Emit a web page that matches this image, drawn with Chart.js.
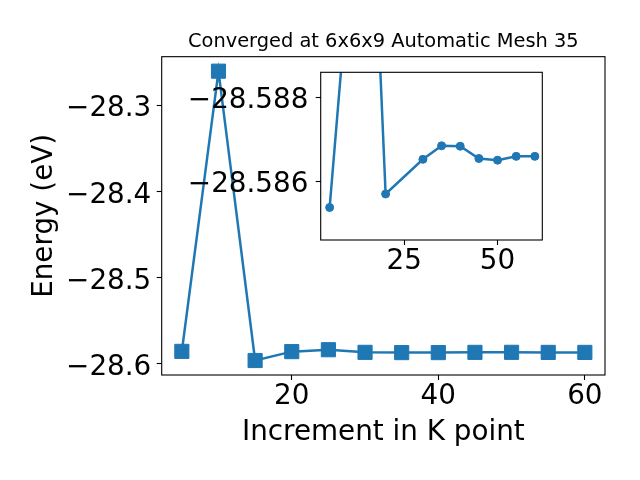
<!DOCTYPE html>
<html><head><meta charset="utf-8">
<script src="https://cdn.jsdelivr.net/npm/chart.js@4/dist/chart.umd.min.js"></script>
<style>
html,body{margin:0;padding:0;background:#fff;width:640px;height:480px;overflow:hidden}
#wrap{position:relative;width:640px;height:480px}
canvas{position:absolute;left:0;top:0}
</style></head><body>
<div id="wrap"><canvas id="main" width="640" height="480"></canvas><canvas id="inset" width="640" height="480"></canvas></div>
<script>
// ---- data ----
const kPoints = [5, 10, 15, 20, 25, 30, 35, 40, 45, 50, 55, 60];
const energies = [-28.58539, -28.2606, -28.5960, -28.58571, -28.5835, -28.58653, -28.58685, -28.58684, -28.58655, -28.58651, -28.58660, -28.58660];
const insetKPoints = [5, 15, 20, 30, 35, 40, 45, 50, 55, 60];
const insetEnergies = [-28.58539, -28.5960, -28.58571, -28.58653, -28.58685, -28.58684, -28.58655, -28.58651, -28.58660, -28.58660];
const mainXTicks = [20, 40, 60];
const mainYTicks = [-28.6, -28.5, -28.4, -28.3];
const insetXTicks = [25, 50];
const insetYTicks = [-28.588, -28.586];
const titleText = 'Converged at 6x6x9 Automatic Mesh 35';
const xLabel = 'Increment in K point';
const yLabel = 'Energy (eV)';

const BLUE = '#1f77b4';
const FONT = 'DejaVu Sans';
const fmt = (v, d) => (v < 0 ? '\u2212' : '') + Math.abs(v).toFixed(d);
const pts = (xs, ys) => xs.map((x, i) => ({x: x, y: ys[i]}));

const framePlugin = {
  id: 'frame',
  afterDatasetsDraw(chart) {
    const {ctx, chartArea: a} = chart;
    ctx.save();
    ctx.strokeStyle = '#000';
    ctx.lineWidth = 1.1;
    ctx.strokeRect(a.left, a.top, a.right - a.left, a.bottom - a.top);
    ctx.restore();
  }
};
const whiteAll = {
  id: 'whiteAll',
  beforeDraw(chart) {
    const {ctx} = chart;
    ctx.save(); ctx.fillStyle = '#fff'; ctx.fillRect(0, 0, chart.width, chart.height); ctx.restore();
  }
};
const whiteArea = {
  id: 'whiteArea',
  beforeDraw(chart) {
    const {ctx, chartArea: a} = chart;
    ctx.save(); ctx.fillStyle = '#fff'; ctx.fillRect(a.left, a.top, a.right - a.left, a.bottom - a.top); ctx.restore();
  }
};

function axisCommon(ticksArr, decimals, pad, offs) {
  return {
    type: 'linear',
    grid: {display: true, drawOnChartArea: false, drawTicks: true, tickLength: 5, tickWidth: 1.1, tickColor: '#000'},
    border: {display: false},
    afterBuildTicks: s => { s.ticks = ticksArr.map(v => ({value: v})); },
    ticks: {
      autoSkip: false, maxRotation: 0, color: '#000', padding: pad, labelOffset: offs,
      font: {family: FONT, size: 27.8},
      callback: v => decimals === 0 ? String(v) : fmt(v, decimals)
    }
  };
}

// ---- main chart ----
const mx = axisCommon(mainXTicks, 0, 0, 0);
mx.min = 2.25; mx.max = 62.75;
mx.afterFit = s => { s.height = 105; };
mx.title = {display: true, text: xLabel, color: '#000', font: {family: FONT, size: 27.8}, padding: {top: 0, bottom: 31}};
const my = axisCommon(mainYTicks, 1, 5.4, 4);
my.min = -28.6128; my.max = -28.2438;
my.afterFit = s => { s.width = 161.7; };
my.title = {display: true, text: yLabel, color: '#000', font: {family: FONT, size: 27.8}, padding: {top: 27.7, bottom: 0}};

new Chart(document.getElementById('main'), {
  type: 'scatter',
  data: {datasets: [{
    data: pts(kPoints, energies), showLine: true, borderColor: BLUE, backgroundColor: BLUE,
    borderWidth: 2.5, pointStyle: 'rect', pointRadius: 10, pointBorderWidth: 1,
    pointBackgroundColor: BLUE, pointBorderColor: BLUE, tension: 0, clip: false
  }]},
  options: {
    responsive: false, animation: false, events: [],
    layout: {padding: {left: 0, right: 35, top: 0, bottom: 0}},
    plugins: {
      legend: {display: false}, tooltip: {enabled: false},
      title: {display: true, text: titleText, color: '#000', fullSize: false,
        font: {family: FONT, size: 19.4, weight: 'normal'}, padding: {top: 30.5, bottom: 2.9}}
    },
    scales: {x: mx, y: my}
  },
  plugins: [whiteAll, framePlugin]
});

// ---- inset chart ----
const ix = axisCommon(insetXTicks, 0, 0, 0);
ix.min = 2.6; ix.max = 62.0;
ix.afterFit = s => { s.height = 240; };
const iy = axisCommon(insetYTicks, 3, 7.3, 3.5);
iy.min = -28.58859; iy.max = -28.58462; iy.reverse = true;
iy.afterFit = s => { s.width = 320.7; };

new Chart(document.getElementById('inset'), {
  type: 'scatter',
  data: {datasets: [{
    data: pts(insetKPoints, insetEnergies), showLine: true, borderColor: BLUE, backgroundColor: BLUE,
    borderWidth: 2.5, pointStyle: 'circle', pointRadius: 4, pointBorderWidth: 1,
    pointBackgroundColor: BLUE, pointBorderColor: BLUE, tension: 0, clip: 0
  }]},
  options: {
    responsive: false, animation: false, events: [],
    layout: {padding: {left: 0, right: 97.7, top: 72.3, bottom: 0}},
    plugins: {legend: {display: false}, tooltip: {enabled: false}, title: {display: false}},
    scales: {x: ix, y: iy}
  },
  plugins: [whiteArea, framePlugin]
});
</script>
</body></html>
